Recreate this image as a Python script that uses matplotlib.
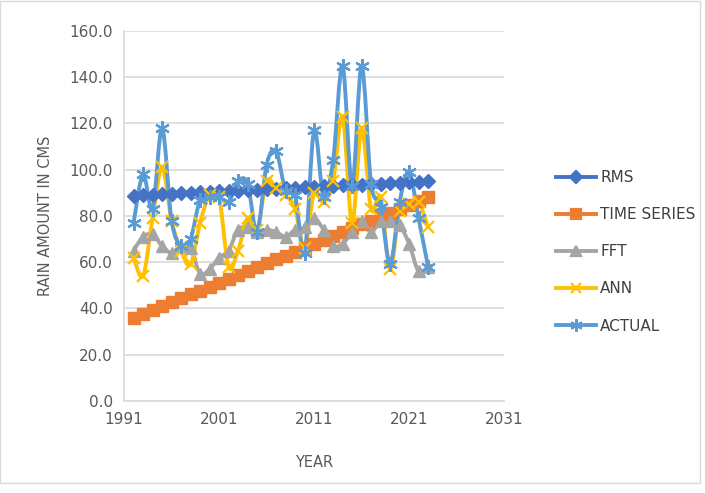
import numpy as np
import matplotlib.pyplot as plt
from matplotlib.path import Path
from matplotlib.patches import PathPatch, Rectangle
from matplotlib.lines import Line2D

years = list(range(1992, 2024))

rms = [88.8, 89.0, 89.2, 89.4, 89.6, 89.8, 90.0, 90.2, 90.4, 90.6, 90.8,
       91.0, 91.2, 91.4, 91.6, 91.8, 92.0, 92.2, 92.4, 92.6, 92.8, 93.0,
       93.2, 93.4, 93.6, 93.8, 94.0, 94.2, 94.4, 94.6, 94.8, 95.0]
time_series = [36.0, 37.7, 39.4, 41.0, 42.7, 44.4, 46.1, 47.7, 49.4, 51.1,
               52.8, 54.5, 56.1, 57.8, 59.5, 61.2, 62.8, 64.5, 66.2, 67.9,
               69.5, 71.2, 72.9, 74.6, 76.3, 77.9, 79.6, 81.3, 83.0, 84.6,
               86.3, 88.0]
fft = [65, 71, 72, 67, 64, 67, 66, 55, 57, 62, 65, 74, 75, 73, 74, 73,
       71, 74, 75, 79, 74, 67, 68, 73, 78, 73, 78, 78, 76, 68, 56, 58]
ann = [62, 54, 79, 101, 78, 65, 59, 77, 89, 88, 58, 65, 79, 74, 95, 92,
       89, 83, 66, 90, 86, 95, 123, 77, 118, 83, 88, 57, 82, 85, 86, 75]
actual = [77, 98, 83, 118, 78, 67, 70, 87, 88, 88, 86, 95, 94, 73, 102, 108,
          91, 89, 64, 117, 88, 104, 145, 93, 145, 94, 84, 59, 86, 99, 79, 58]

series = [
    ("RMS", rms, "#4472C4", "D", 7.5),
    ("TIME SERIES", time_series, "#ED7D31", "s", 8.5),
    ("FFT", fft, "#A5A5A5", "^", 8.5),
    ("ANN", ann, "#FFC000", "x", 8.5),
    ("ACTUAL", actual, "#5B9BD5", (6, 2, 0), 10.5),
]


def smooth_path(x, y):
    # bezier segments like a spreadsheet "smoothed line"
    pts = np.column_stack([x, y]).astype(float)
    n = len(pts)
    verts = [pts[0]]
    codes = [Path.MOVETO]
    for i in range(n - 1):
        p0 = pts[max(i - 1, 0)]
        p1 = pts[i]
        p2 = pts[i + 1]
        p3 = pts[min(i + 2, n - 1)]
        c1 = p1 + (p2 - p0) / 6.0
        c2 = p2 - (p3 - p1) / 6.0
        verts += [c1, c2, p2]
        codes += [Path.CURVE4] * 3
    return Path(verts, codes)


fig = plt.figure(figsize=(7.05, 4.93), dpi=100)
fig.patches.append(Rectangle((0.0, 0.02), 0.993, 0.978, transform=fig.transFigure,
                             fill=False, edgecolor="#D9D9D9", linewidth=1))
ax = fig.add_axes([0.176, 0.187, 0.539, 0.75])

for name, vals, color, marker, ms in series:
    patch = PathPatch(smooth_path(years, vals), facecolor="none",
                      edgecolor=color, linewidth=2.8, zorder=3)
    ax.add_patch(patch)
    if marker in ("x",) or isinstance(marker, tuple):
        ax.plot(years, vals, linestyle="none", marker=marker, markersize=ms,
                markeredgecolor=color, markeredgewidth=1.6, zorder=4)
    else:
        ax.plot(years, vals, linestyle="none", marker=marker, markersize=ms,
                color=color, markeredgecolor=color, zorder=4)

ax.set_xlim(1991, 2031)
ax.set_ylim(0, 160)
ax.set_xticks([1991, 2001, 2011, 2021, 2031])
ax.set_yticks(np.arange(0, 161, 20))
ax.set_yticklabels(["%.1f" % v for v in np.arange(0, 161, 20)])
ax.grid(axis="y", color="#D9D9D9", linewidth=1.2)
ax.set_axisbelow(True)
for side in ["top", "right"]:
    ax.spines[side].set_visible(False)
for side in ["left", "bottom"]:
    ax.spines[side].set_color("#D9D9D9")
    ax.spines[side].set_linewidth(1.2)
ax.tick_params(length=0, labelsize=11, colors="#595959", pad=8)
ax.set_xlabel("YEAR", fontsize=10.5, color="#595959", labelpad=20)
ax.set_ylabel("RAIN AMOUNT IN CMS", fontsize=10.5, color="#595959", labelpad=12)

handles = [Line2D([0], [0], color=c, marker=m, markersize=ms * 0.85, linewidth=2.8,
                  markeredgewidth=1.6, markeredgecolor=c)
           for _, _, c, m, ms in series]
fig.legend(handles, [s[0] for s in series], loc="upper left",
           bbox_to_anchor=(0.769, 0.683), frameon=False, fontsize=11,
           labelspacing=1.45, handlelength=2.6, handletextpad=0.3,
           labelcolor="#404040")

fig.savefig("out.png", dpi=100)
